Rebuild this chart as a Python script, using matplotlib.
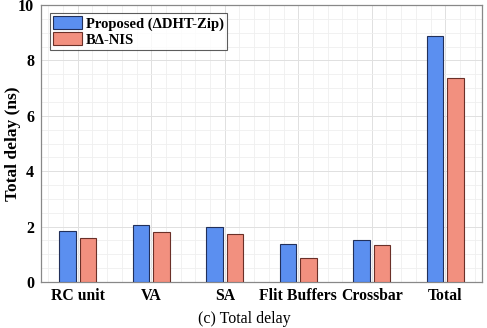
import matplotlib
matplotlib.use("Agg")
import matplotlib.pyplot as plt
import numpy as np
from matplotlib.ticker import MultipleLocator

categories = ["RC unit", "VA", "SA", "Flit Buffers", "Crossbar", "Total"]
proposed = [1.83, 2.07, 2.0, 1.38, 1.53, 8.87]
banis = [1.60, 1.80, 1.75, 0.87, 1.33, 7.37]
series_labels = ["Proposed (\u0394DHT-Zip)", "B\u0394-NIS"]
yticks = [0, 2, 4, 6, 8, 10]

plt.rcParams['font.family'] = ['Liberation Serif', 'DejaVu Serif']

fig = plt.figure(figsize=(4.87, 3.28), dpi=100)
ax = fig.add_axes([41/487, 1-282/328, (482-41)/487, (282-5)/328])

x = np.arange(len(categories))
w = 0.23
off = 0.14
ax.bar(x - off, proposed, w, color='#5b8ff0', edgecolor='#22305a', linewidth=0.8,
       label=series_labels[0], zorder=3)
ax.bar(x + off, banis, w, color='#f2907f', edgecolor='#6a3028', linewidth=0.8,
       label=series_labels[1], zorder=3)

ax.set_xlim(-0.5, 5.5)
ax.set_ylim(0, 10)
ax.set_yticks(yticks)
ax.set_xticks(x)
ax.set_xticklabels(categories, fontweight='bold', fontsize=11.3)
for lab in ax.get_yticklabels():
    lab.set_fontweight('bold')
    lab.set_fontsize(11.5)
ax.yaxis.set_minor_locator(MultipleLocator(0.5))
ax.xaxis.set_minor_locator(MultipleLocator(0.2))
ax.grid(which='major', color='#e0e0e0', linewidth=0.7, zorder=0)
ax.grid(which='minor', color='#efefef', linewidth=0.6, zorder=0)
ax.tick_params(which='both', length=0, pad=4)
ax.tick_params(axis='y', pad=5)
for s in ax.spines.values():
    s.set_color('#888888')
    s.set_linewidth(0.9)
ax.set_ylabel('Total delay (ns)', fontweight='bold', fontsize=12.5)
ax.yaxis.set_label_coords((21 - 41) / 441, 0.5)

leg = ax.legend(loc='upper left', prop={'weight': 'bold', 'size': 10.5},
                frameon=True, fancybox=False, edgecolor='#333333',
                borderpad=0.2, handlelength=2.0, handleheight=1.0,
                handletextpad=0.25, labelspacing=0.1, borderaxespad=0,
                bbox_to_anchor=((50 - 41) / 441, (282 - 13) / 277))
leg.get_frame().set_linewidth(0.8)

fig.text(244 / 487, 1 - 319/328, '(c) Total delay', ha='center',
         va='center', fontsize=11.5)

fig.savefig('out.png', dpi=100)
